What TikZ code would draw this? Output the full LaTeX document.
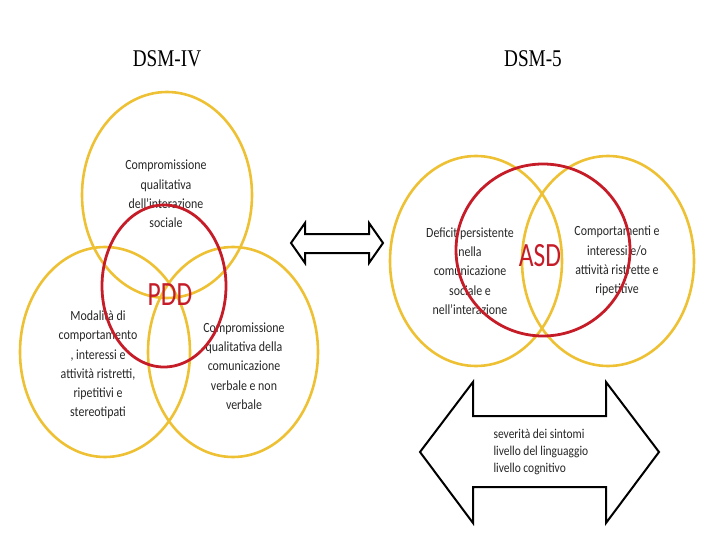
\documentclass[tikz,border=0pt]{standalone}
\usepackage{fontspec}
\setmainfont{Carlito}
\newfontfamily\titlefont[FakeStretch=0.8]{Liberation Serif}
\newfontfamily\tagfont[FakeStretch=0.75]{Carlito}
\newfontfamily\blurbfont[FakeStretch=0.85]{Carlito}
\definecolor{ringyellow}{RGB}{238,193,52}
\definecolor{ringred}{RGB}{197,28,40}

\begin{document}
\begin{tikzpicture}[x=1pt,y=-1pt,
    yring/.style={draw=ringyellow,line width=2.6pt},
    rring/.style={draw=ringred,line width=2.8pt},
    blurb/.style={align=center,text=black!85,font=\blurbfont\fontsize{14}{19.3}\selectfont},
    tag/.style={text=ringred,font=\tagfont\fontsize{34}{34}\selectfont},
    title/.style={font=\titlefont\fontsize{24}{24}\selectfont},
    block/.style={draw=black,line width=2pt,fill=white,line join=miter}]

  \useasboundingbox (0,0) rectangle (720,540);

  % titles
  \node[title] (dsmiv) at (167,59) {DSM-IV};
  \node[title] (dsmv) at (533,59) {DSM-5};

  % DSM-IV
  \node[blurb] (social) at (166,194) {Compromissione\\qualitativa\\dell’interazione\\sociale};
  \node[blurb] (behav) at (98,365) {Modalità di\\comportamento\\, interessi e\\attività ristretti,\\ripetitivi e\\stereotipati};
  \node[blurb] (comm) at (244,366) {Compromissione\\qualitativa della\\comunicazione\\verbale e non\\verbale};
  \draw[yring] (167,195) ellipse [x radius=85, y radius=103];
  \draw[yring] (105,352) ellipse [x radius=85, y radius=105];
  \draw[yring] (233,352) ellipse [x radius=85, y radius=105];
  \draw[rring] (164,286) ellipse [x radius=62, y radius=81];
  \node[tag] (pdd) at (170,295) {PDD};

  % DSM-5
  \node[blurb] (deficit) at (470,271) {Deficit persistente\\nella\\comunicazione\\sociale e\\nell’interazione};
  \node[blurb] (rrb) at (617,261) {Comportamenti e\\interessi e/o\\attività ristrette e\\ripetitive};
  \draw[yring] (476,261) ellipse [x radius=86, y radius=105];
  \draw[yring] (608,261) ellipse [x radius=86, y radius=105];
  \draw[rring] (543,250) ellipse [x radius=87, y radius=86];
  \node[tag] (asd) at (540,256) {ASD};

  % block arrows
  \draw[block] (291,243) -- (305,223) -- (305,234) -- (369,234) -- (369,223) -- (383,243)
    -- (369,263) -- (369,253) -- (305,253) -- (305,263) -- cycle;
  \draw[block] (420,452) -- (473,382) -- (473,416) -- (606,416) -- (606,382) -- (659,452)
    -- (606,523) -- (606,487) -- (473,487) -- (473,523) -- cycle;
  \node[blurb,align=left,anchor=west,font=\blurbfont\fontsize{13.5}{17}\selectfont] (levels) at (490,452)
    {severità dei sintomi\\livello del linguaggio\\livello cognitivo};
\end{tikzpicture}
\end{document}
